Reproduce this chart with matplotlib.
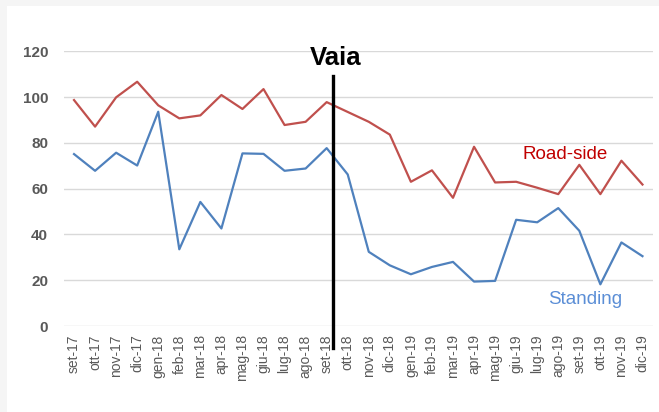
import matplotlib
matplotlib.use("Agg")
import matplotlib.pyplot as plt
from matplotlib.patches import Rectangle

months = ["set-17", "ott-17", "nov-17", "dic-17", "gen-18", "feb-18", "mar-18", "apr-18",
          "mag-18", "giu-18", "lug-18", "ago-18", "set-18", "ott-18", "nov-18", "dic-18",
          "gen-19", "feb-19", "mar-19", "apr-19", "mag-19", "giu-19", "lug-19", "ago-19",
          "set-19", "ott-19", "nov-19", "dic-19"]
road_side = [98.7, 87.1, 99.9, 106.7, 96.4, 90.7, 92.0, 100.9, 94.8, 103.5, 87.8, 89.2,
             97.8, 93.5, 89.2, 83.6, 63.0, 68.0, 56.0, 78.3, 62.7, 63.0, 60.4, 57.6,
             70.4, 57.6, 72.2, 61.8]
standing = [75.1, 67.8, 75.7, 70.1, 93.6, 33.5, 54.2, 42.6, 75.4, 75.2, 67.8, 68.8,
            77.7, 66.2, 32.4, 26.5, 22.6, 25.8, 28.0, 19.4, 19.7, 46.4, 45.3, 51.5,
            41.6, 18.2, 36.5, 30.5]
y_ticks = [0, 20, 40, 60, 80, 100, 120]
vaia_x = 12.31

plt.rcParams['font.family'] = ['Liberation Sans', 'DejaVu Sans']

fig = plt.figure(figsize=(6.59, 4.12), dpi=100)
fig.patch.set_facecolor('#f5f5f5')
bg = fig.add_axes([7 / 659, 0, 1 - 7 / 659, 1 - 6 / 412], zorder=-10)
bg.axis('off')
bg.add_patch(Rectangle((0, 0), 1, 1, transform=bg.transAxes, facecolor='white', edgecolor='none'))

ax = fig.add_axes([63.5 / 659, 86 / 412, (653 - 63.5) / 659, (326 - 51.3) / 412])
ax.set_facecolor('none')

x = list(range(len(months)))
ax.plot(x, road_side, color='#C0504D', lw=1.6, zorder=3)
ax.plot(x, standing, color='#4F81BD', lw=1.6, zorder=3)

ax.set_xlim(-0.5, len(months) - 0.5)
ax.set_ylim(0, 120)
ax.set_yticks(y_ticks)
ax.set_yticklabels([str(v) for v in y_ticks], fontsize=11, fontweight='bold', color='#595959')
ax.set_xticks(x)
ax.set_xticklabels(months, rotation=90, fontsize=10, color='#595959')
ax.tick_params(axis='both', length=0)
ax.tick_params(axis='y', pad=11)
ax.tick_params(axis='x', pad=6)
ax.grid(axis='y', color='#d9d9d9', lw=1)
ax.set_axisbelow(True)
for s in ax.spines.values():
    s.set_visible(False)

ax.plot([vaia_x, vaia_x], [-9.5, 109], color='black', lw=2.4, clip_on=False, zorder=4)
ax.text(vaia_x + 0.1, 114.1, "Vaia", fontsize=18.5, fontweight='bold', ha='center',
        va='baseline', color='black')
ax.text(21.32, 73.0, "Road-side", fontsize=13.5, color='#C00000', va='baseline', ha='left')
ax.text(22.5, 9.6, "Standing", fontsize=13.5, color='#5B8ED6', va='baseline', ha='left')

fig.savefig("out.png", dpi=100, facecolor=fig.get_facecolor())
